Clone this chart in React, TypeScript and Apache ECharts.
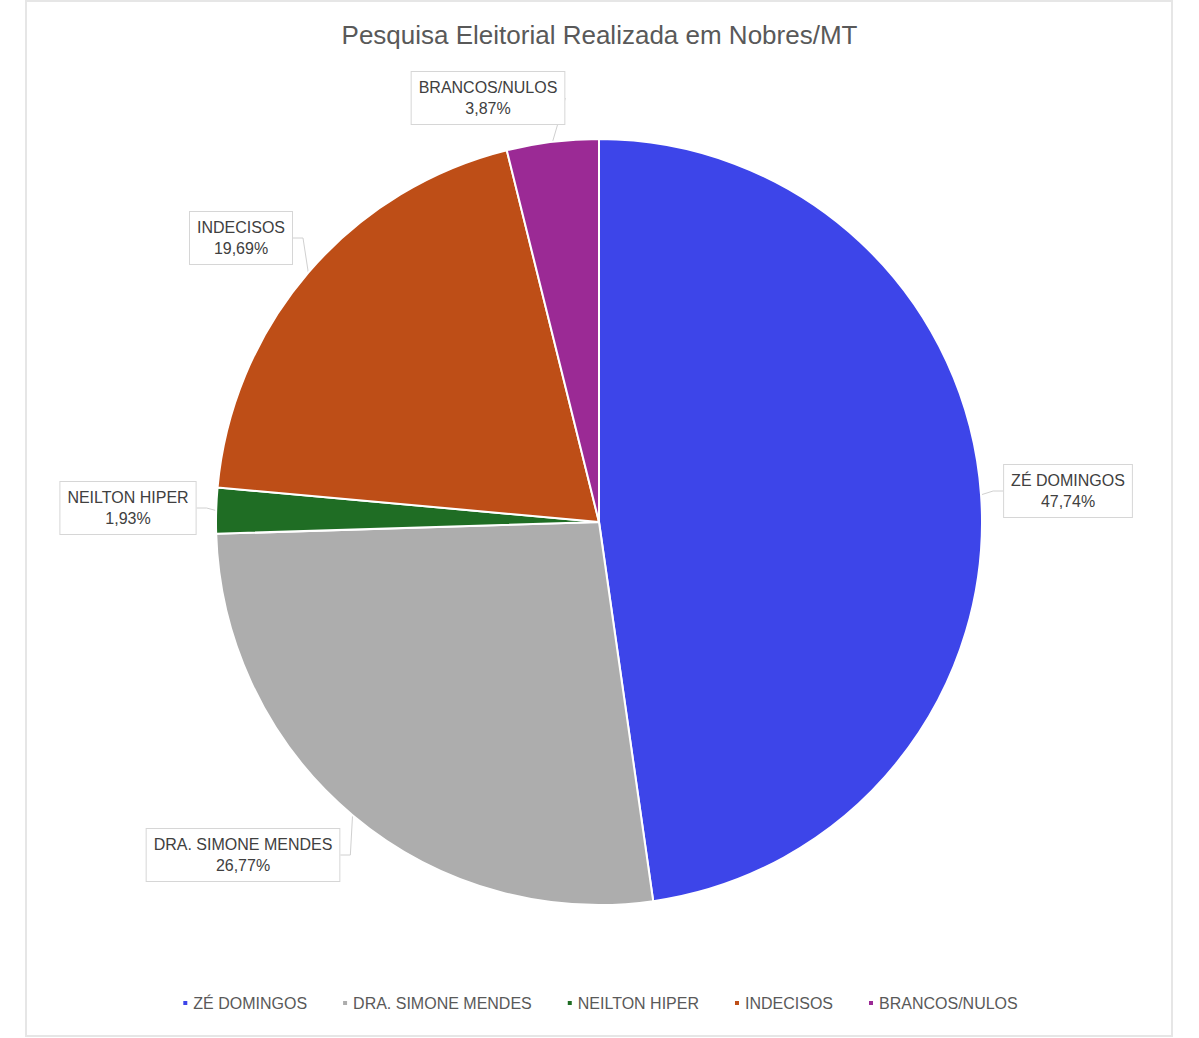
import React, { useEffect, useRef } from "react";
import * as echarts from "echarts";

const titleText = "Pesquisa Eleitorial Realizada em Nobres/MT";
const categories = ["ZÉ DOMINGOS", "DRA. SIMONE MENDES", "NEILTON HIPER", "INDECISOS", "BRANCOS/NULOS"];
const values = [47.74, 26.77, 1.93, 19.69, 3.87];
const colors = ["#3d45e9", "#adadad", "#1f6d24", "#be4e17", "#9b2a95"];
const labelPos: [number, number][] = [
  [1068, 491],
  [243, 855],
  [128, 508],
  [241, 238],
  [488, 98],
];

const fmt = (v: number) => v.toFixed(2).replace(".", ",") + "%";

export default function App() {
  const ref = useRef<HTMLDivElement>(null);
  useEffect(() => {
    if (!ref.current) return;
    const chart = echarts.init(ref.current, null, { renderer: "svg" });
    const font = "'Liberation Sans', Arial, sans-serif";
    chart.setOption({
      animation: false,
      backgroundColor: "#ffffff",
      title: {
        text: titleText,
        left: "center",
        top: 17,
        textStyle: { fontFamily: font, fontSize: 26, fontWeight: "normal", color: "#595959" },
      },
      legend: {
        bottom: 22,
        left: "center",
        icon: "rect",
        itemWidth: 6,
        itemHeight: 6,
        itemGap: 34,
        textStyle: { fontFamily: font, fontSize: 16, color: "#595959" },
        data: categories,
      },
      graphic: [
        {
          type: "rect",
          shape: { x: 26, y: 1, width: 1146, height: 1035 },
          style: { fill: "none", stroke: "#e6e6e6", lineWidth: 2 },
          silent: true,
        },
      ],
      series: [
        {
          type: "pie",
          center: [599, 522],
          radius: [0, 383],
          startAngle: 90,
          clockwise: true,
          avoidLabelOverlap: false,
          itemStyle: { borderColor: "#ffffff", borderWidth: 2 },
          label: {
            show: true,
            position: "outside",
            formatter: (p: any) => `{n|${p.name}}\n{v|${fmt(p.value)}}`,
            backgroundColor: "#ffffff",
            borderColor: "#d6d6d6",
            borderWidth: 1,
            padding: [5, 7, 5, 7],
            rich: {
              n: { fontFamily: font, fontSize: 16, color: "#404040", lineHeight: 21, align: "center" },
              v: { fontFamily: font, fontSize: 16, color: "#404040", lineHeight: 21, align: "center" },
            },
          },
          labelLine: {
            show: true,
            length: 10,
            length2: 10,
            lineStyle: { color: "#d0d0d0", width: 1 },
          },
          labelLayout: (params: any) => {
            const p = labelPos[params.dataIndex];
            return { x: p[0], y: p[1], align: "center", verticalAlign: "middle" };
          },
          data: categories.map((c, i) => ({
            name: c,
            value: values[i],
            itemStyle: { color: colors[i] },
          })),
        },
      ],
    });
    return () => chart.dispose();
  }, []);
  return (
    <div
      ref={ref}
      style={{ position: "fixed", left: 0, top: 0, width: 1199, height: 1038 }}
    />
  );
}
